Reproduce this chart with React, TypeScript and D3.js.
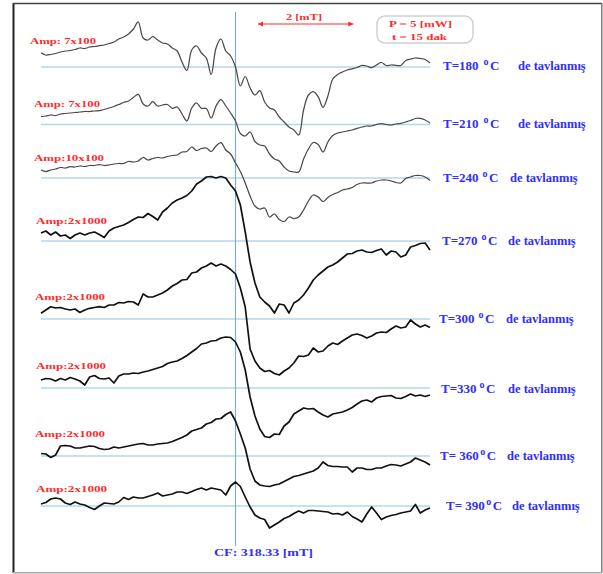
import React from "react";
import * as d3 from "d3";

// EPR spectra of samples annealed at different temperatures (field sweep 314.33–322.33 mT, 0.1 mT step)
const FIELD_START = 314.33;
const FIELD_STEP = 0.1;
const CENTER_FIELD = 318.33;

const temperatures = ["180", "210", "240", "270", "300", "330", "360", "390"];
const tempPrefix = ["T=", "T=", "T=", "T=", "T=", "T=", "T= ", "T= "];
const ampLabels = [
  "Amp: 7x100",
  "Amp: 7x100",
  "Amp:10x100",
  "Amp:2x1000",
  "Amp:2x1000",
  "Amp:2x1000",
  "Amp:2x1000",
  "Amp:2x1000",
];

// signal intensity (a.u.), one value per field step
const s180 = [14.3, 12, 12.5, 13.5, 15, 16, 16.5, 17.5, 19, 18.5, 20, 20.5, 21.3, 22, 23.5, 25, 28, 30, 33, 38, 45, 29, 27, 30.3, 27, 24, 23, 19, 16, 5, -3.5, 17, 21, 14, 9, -7.5, 19, 28, 16, 11, 0, -19, -9.5, -21, -28, -23.7, -35, -41, -43, -50, -55, -60, -63, -68, -43, -28, -24.7, -29.7, -40.5, -29, -12, -7.5, -5, -3, -1.8, -0.5, 1.5, 1, -0.7, 2, 4.5, 1.5, 2, 1.7, 1.5, 6.5, 8, 9, 8.5, 7.5, 4];
const s210 = [7.8, 8.5, 9.5, 9, 10.5, 11, 11.5, 12, 12.5, 13, 13, 13.5, 13.8, 15, 16.5, 18, 20, 22, 23.5, 27, 30.2, 20.5, 18.5, 22.8, 18.5, 19.5, 20, 16.2, 17.5, 10.5, 3.5, 16.5, 21.5, 16.2, 16, 6.5, 18.5, 25, 18.5, 11.5, 3.5, -9, -11.5, -7.5, -17, -20.5, -21.5, -29.5, -34.5, -36.5, -42.5, -46.5, -47.5, -47.5, -34.5, -24.5, -18, -20, -27.5, -17.5, -11, -8.5, -7.5, -6.5, -5.5, -3.8, -2.5, -1.5, -1.5, 0, 1, 0, -0.5, 0.5, 1.2, 2.5, 4, 6, 6.2, 4.5, 1.5];
const s240 = [8, 6.5, 8, 9, 10.5, 10, 11.3, 11, 12, 11.5, 12.5, 12.5, 13.5, 12.5, 13, 14, 14.5, 14.5, 16.5, 16, 17, 20.5, 18, 19.5, 20.5, 20, 21.5, 22.5, 23, 26, 26.5, 31, 27.5, 29.5, 30, 26.5, 32, 35.3, 28, 24, 15, 6.5, -5, -18, -28, -31, -30, -39, -36, -41.5, -43.5, -39, -40.5, -39, -32, -23, -17, -19, -23.5, -19.5, -16.5, -14.5, -12, -11, -9.5, -6.5, -5, -5, -5, -3, -2, -2, -3, -4.5, -5, -0.5, 1, 2.5, 2.5, 1, -2.5];
const s270 = [8, 10, 6, 9, 5, 6, 2.5, 6, 8, 6, 8, 9, 6.5, 3.5, 10, 13, 14.5, 16, 18.5, 21.5, 24, 23.5, 27.5, 24.5, 21, 29, 33, 38, 41, 43, 45.5, 50, 57, 60, 64, 64.5, 63, 64.5, 63, 56, 50, 36, 9, -21, -42, -56, -61, -65, -72, -63, -64, -72, -62, -59, -54, -47, -39, -34, -30, -26, -24, -21, -17, -13, -12.5, -10, -9, -11, -11.5, -9.5, -8, -14, -10, -11, -16, -14, -6, -4.5, -2.5, -2, -9];
const s300 = [5.7, 9, 12.3, 11, 11.5, 10, 9, 10, 6.5, 9, 10.7, 11.5, 12.3, 11.5, 14, 14, 16.5, 16, 17.5, 17, 14, 25, 22, 22, 24, 26, 29, 33, 35.5, 39, 39.5, 46, 47, 51, 53, 56, 53, 55, 53, 49.5, 45, 31, 12, -30, -42, -49, -52.5, -51.5, -54.5, -56, -52, -49, -44, -37, -37.5, -36, -29, -33, -32, -27, -24, -25.5, -22, -19, -16, -15, -16.5, -19, -17, -14, -13, -13.5, -10, -7, -9, -8, -1, -5, -8, -6, -8.5];
const s330 = [8, 9.5, 9, 7, 9.5, 8, 10.5, 9, 7, 3, 11, 12.5, 9.5, 9, 10, 5, 12, 14, 14, 15, 14.5, 16, 17, 18.5, 20, 21.5, 24.5, 26, 27, 29.5, 32.5, 36, 39.5, 44, 45, 47, 47.5, 50, 51, 50.5, 46, 36, 18, -9, -28, -41, -48.5, -49.5, -46, -46.5, -38, -34, -26, -23, -20, -21, -20.5, -24, -27, -29, -26, -25, -24, -22, -19.5, -16, -13, -12, -14, -10, -8.5, -8, -7.5, -10, -10.5, -8.5, -6, -8, -7, -8.5, -7];
const s360 = [2.5, 2, -1.5, 1, 10, 10.5, 10, 8, 8, 9, 10, 9.5, 7.5, 6.5, 7, 9, 8, 9, 10, 11, 12, 12.5, 11, 11, 12, 12.5, 13, 14.5, 16.5, 18.5, 21, 25, 26.5, 28, 32, 33.5, 37, 37.5, 41.5, 44, 35, 22, 8, -13, -25, -29, -30, -30.5, -29, -28, -25.5, -23, -20.5, -19.5, -18, -16.5, -15, -12, -6, -9.5, -10.5, -10.5, -11, -11, -16, -12, -12, -13.5, -13.5, -12, -12, -10, -8.5, -9, -10, -8, -6, -2, -4, -6, -9];
const s390 = [2, 3.5, 7, 8, 7, 3, 1.5, 4, 2, 1, -1.5, -3.5, 0, 3, 2.5, 2, 4, 8.5, 6.5, 9, 8, 8, 9.5, 11, 13, 10, 11, 12, 14, 14, 12.5, 14.5, 16.5, 18, 16, 18, 17, 16, 11, 20, 24, 19.5, 9, -1, -9, -12, -13.5, -22, -19, -16, -12.5, -10.5, -7.5, -5, -7, -4.5, -4.5, -5, -5.5, -6, -8, -7.5, -9, -6, -10.5, -13, -16, -8, -1, -7, -13.5, -11, -9.5, -8.5, -7, -6, -5, 1.5, -7, -4, -2];

const spectra = [s180, s210, s240, s270, s300, s330, s360, s390];

// layout
const W = 603;
const H = 574;
const baselineY = [67, 124.5, 178, 241, 319, 388, 456, 506];
const ampPos = [
  [30, 43.5, 66],
  [34, 107, 66],
  [34, 160.5, 70],
  [36, 224, 71],
  [35, 300, 70],
  [36, 369, 70],
  [35, 437, 70],
  [36, 492, 71],
];
// [x, baseline y, x of "de tavlanmış", gap before degree sign]
const tempPos = [
  [443, 69.5, 518, 5],
  [443, 128, 518, 5],
  [443, 181.5, 510, 4],
  [442, 245, 508, 4],
  [439, 322.5, 506, 4],
  [441, 392.5, 508, 3],
  [440, 460, 507, 1.5],
  [446, 510, 512, 1.5],
];

const serif = "'Liberation Serif', 'Times New Roman', serif";
const RED = "#ff2b2b";
const BLUE = "#2f2fff";

export default function App() {
  const fields = d3.range(s180.length).map((i) => FIELD_START + i * FIELD_STEP);
  const x = d3
    .scaleLinear()
    .domain([FIELD_START, FIELD_START + FIELD_STEP * (s180.length - 1)])
    .range([41, 430]);
  const cfX = x(CENTER_FIELD);

  const paths = spectra.map((vals, k) => {
    const y = d3
      .scaleLinear()
      .domain([-100, 100])
      .range([baselineY[k] + 100, baselineY[k] - 100]);
    const smooth = k < 3;
    const line = d3
      .line<number>()
      .x((_, i) => x(fields[i]))
      .y((v) => y(v))
      .curve(smooth ? d3.curveCatmullRom.alpha(0.5) : d3.curveLinear);
    return { d: line(vals) || "", smooth };
  });

  const mT2 = 2; // scale bar length
  const barX0 = 258;
  const barX1 = barX0 + (x(FIELD_START + mT2) - x(FIELD_START)) * 0.98;

  return (
    <svg
      width={W}
      height={H}
      style={{ position: "absolute", left: 0, top: 0, background: "#fff" }}
      fontFamily={serif}
    >
      {/* frame */}
      <line x1={13.5} y1={3} x2={13.5} y2={573} stroke="#222" strokeWidth={2} />
      <line x1={13} y1={3.5} x2={602} y2={3.5} stroke="#444" strokeWidth={1.5} />
      <line x1={601.8} y1={3} x2={601.8} y2={573} stroke="#777" strokeWidth={1.4} />
      <line x1={13} y1={572.8} x2={602} y2={572.8} stroke="#aaa" strokeWidth={1.4} />

      {/* baselines */}
      {baselineY.map((by, k) => (
        <line key={k} x1={41} x2={430} y1={by} y2={by} stroke="#b5d8e8" strokeWidth={1.3} />
      ))}

      {/* center field marker */}
      <line x1={cfX} x2={cfX} y1={12} y2={546} stroke="#78aecb" strokeWidth={1.1} />
      <text
        x={214}
        y={556}
        fontSize={11}
        fontWeight="bold"
        fill={BLUE}
        textLength={99}
        lengthAdjust="spacingAndGlyphs"
      >
        CF: {CENTER_FIELD.toFixed(2)} [mT]
      </text>

      {/* spectra */}
      {paths.map((p, k) => (
        <path
          key={k}
          d={p.d}
          fill="none"
          stroke={p.smooth ? "#4a4a4a" : "#111"}
          strokeWidth={p.smooth ? 1.25 : 1.7}
          strokeLinejoin="round"
        />
      ))}

      {/* amplification labels */}
      {ampLabels.map((t, k) => (
        <text
          key={k}
          x={ampPos[k][0]}
          y={ampPos[k][1]}
          fontSize={8}
          fontWeight="bold"
          fill={RED}
          textLength={ampPos[k][2]}
          lengthAdjust="spacingAndGlyphs"
        >
          {t}
        </text>
      ))}

      {/* annealing temperature labels */}
      {temperatures.map((t, k) => (
        <g key={k} fontWeight="bold" fill={BLUE}>
          <text x={tempPos[k][0]} y={tempPos[k][1]} fontSize={13}>
            {tempPrefix[k] + t}
            <tspan dx={tempPos[k][3]} dy={-5} fontSize={10}>
              o
            </tspan>
            <tspan dx={1.5} dy={5}>
              C
            </tspan>
          </text>
          <text x={tempPos[k][2]} y={tempPos[k][1]} fontSize={12.5}>
            de tavlanmış
          </text>
        </g>
      ))}

      {/* 2 mT scale bar */}
      <text
        x={286}
        y={19.5}
        fontSize={8}
        fontWeight="bold"
        fill={RED}
        textLength={36}
        lengthAdjust="spacingAndGlyphs"
      >
        {mT2} [mT]
      </text>
      <line x1={barX0} x2={barX1} y1={24} y2={24} stroke={RED} strokeWidth={1} />
      <path d={`M${barX0},24 l5,-2.5 l0,5 z`} fill={RED} />
      <path d={`M${barX1},24 l-5,-2.5 l0,5 z`} fill={RED} />

      {/* measurement conditions */}
      <rect x={377} y={16} width={96} height={27} rx={8} fill="#fff" stroke="#cfcfcf" strokeWidth={1.5} />
      <text
        x={389}
        y={27}
        fontSize={8}
        fontWeight="bold"
        fill={RED}
        textLength={63}
        lengthAdjust="spacingAndGlyphs"
      >
        P = 5 [mW]
      </text>
      <text
        x={392}
        y={39.5}
        fontSize={8}
        fontWeight="bold"
        fill={RED}
        textLength={55}
        lengthAdjust="spacingAndGlyphs"
      >
        t = 15 dak
      </text>
    </svg>
  );
}
